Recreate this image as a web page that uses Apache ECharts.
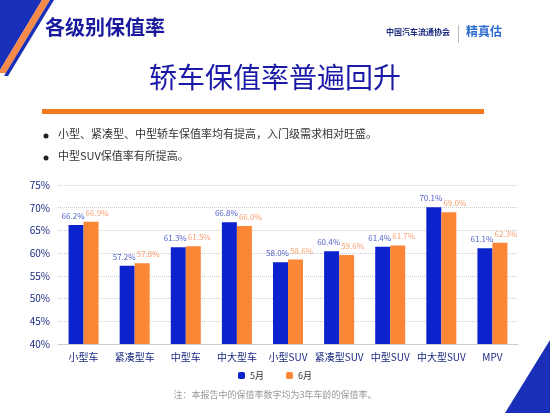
<!DOCTYPE html>
<html>
<head>
<meta charset="utf-8">
<script src="https://cdn.jsdelivr.net/npm/echarts@6/dist/echarts.min.js"></script>
<style>html,body{margin:0;padding:0;background:#fff}#c{width:550px;height:413px}</style>
</head>
<body>
<div id="c"></div>
<script>
// 数据
const categories = ['小型车', '紧凑型车', '中型车', '中大型车', '小型SUV', '紧凑型SUV', '中型SUV', '中大型SUV', 'MPV'];
const may = [66.2, 57.2, 61.3, 66.8, 58.0, 60.4, 61.4, 70.1, 61.1];
const june = [66.9, 57.8, 61.5, 66.0, 58.6, 59.6, 61.7, 69.0, 62.3];
const seriesNames = ['5月', '6月'];

const font = '"Noto Sans CJK SC", sans-serif';
const chart = echarts.init(document.getElementById('c'));
const pct = p => p.value.toFixed(1) + '%';

chart.setOption({
    backgroundColor: '#fff',
    textStyle: { fontFamily: font },
    graphic: [
        // 左上角斜条
        { type: 'polygon', shape: { points: [[0,0],[42,0],[0,70]] }, style: { fill: '#1a2fb8' } },
        { type: 'polygon', shape: { points: [[42,0],[50,0],[6,73],[0,73],[0,70]] }, style: { fill: '#f58a4a' } },
        { type: 'polygon', shape: { points: [[50,0],[54,0],[8,76],[4,76]] }, style: { fill: '#1a2fb8' } },
        // 右下角
        { type: 'polygon', shape: { points: [[550,340],[550,413],[505,413]] }, style: { fill: '#1a2fb8' } },
        { type: 'text', left: 45, top: 17, style: { text: '各级别保值率', fill: '#1a1a9e', font: 'bold 20px ' + font } },
        { type: 'text', left: 386, top: 28, style: { text: '中国汽车流通协会', fill: '#1a2a80', font: 'bold 8px ' + font } },
        { type: 'rect', shape: { x: 458, y: 25, width: 1, height: 18 }, style: { fill: '#bbb' } },
        { type: 'text', left: 466, top: 25, style: { text: '精真估', fill: '#2a6ad0', font: 'bold 12px ' + font } },
        { type: 'text', left: 'center', top: 63, style: { text: '轿车保值率普遍回升', fill: '#1a1aa6', font: '28px ' + font } },
        { type: 'rect', shape: { x: 42, y: 109, width: 442, height: 5 }, style: { fill: '#f47a20' } },
        { type: 'circle', shape: { cx: 46, cy: 136, r: 2.5 }, style: { fill: '#222' } },
        { type: 'text', left: 58, top: 128, style: { text: '小型、紧凑型、中型轿车保值率均有提高，入门级需求相对旺盛。', fill: '#333', font: '11px ' + font } },
        { type: 'circle', shape: { cx: 46, cy: 158, r: 2.5 }, style: { fill: '#222' } },
        { type: 'text', left: 58, top: 150, style: { text: '中型SUV保值率有所提高。', fill: '#333', font: '11px ' + font } },
        { type: 'text', left: 'center', top: 390, style: { text: '注：本报告中的保值率数字均为3年车龄的保值率。', fill: '#999', font: '9px ' + font } }
    ],
    legend: {
        data: seriesNames,
        bottom: 28,
        left: 'center',
        itemWidth: 7, itemHeight: 7, itemGap: 22,
        textStyle: { fontSize: 9, color: '#333' }
    },
    grid: { left: 58, right: 32, top: 185, bottom: 69 },
    xAxis: {
        type: 'category',
        data: categories,
        axisLine: { lineStyle: { color: '#ccc' } },
        axisTick: { show: false },
        axisLabel: { fontSize: 10, color: '#1a2a80', interval: 0 }
    },
    yAxis: {
        type: 'value',
        min: 40, max: 75, interval: 5,
        axisLabel: { formatter: '{value}%', fontSize: 10, color: '#1a2a80' },
        splitLine: { lineStyle: { type: 'dotted', color: '#ccc' } },
        axisLine: { show: false }
    },
    series: [
        {
            name: seriesNames[0], type: 'bar', data: may, barWidth: 15, barGap: '0%',
            itemStyle: { color: '#0b22cc' },
            label: { show: true, position: 'top', formatter: pct, fontSize: 8, color: '#5563c8', offset: [-3, 0] }
        },
        {
            name: seriesNames[1], type: 'bar', data: june, barWidth: 15,
            itemStyle: { color: '#fb8636' },
            label: { show: true, position: 'top', formatter: pct, fontSize: 8, color: '#f7a070', offset: [6, 0] }
        }
    ]
});
</script>
</body>
</html>
